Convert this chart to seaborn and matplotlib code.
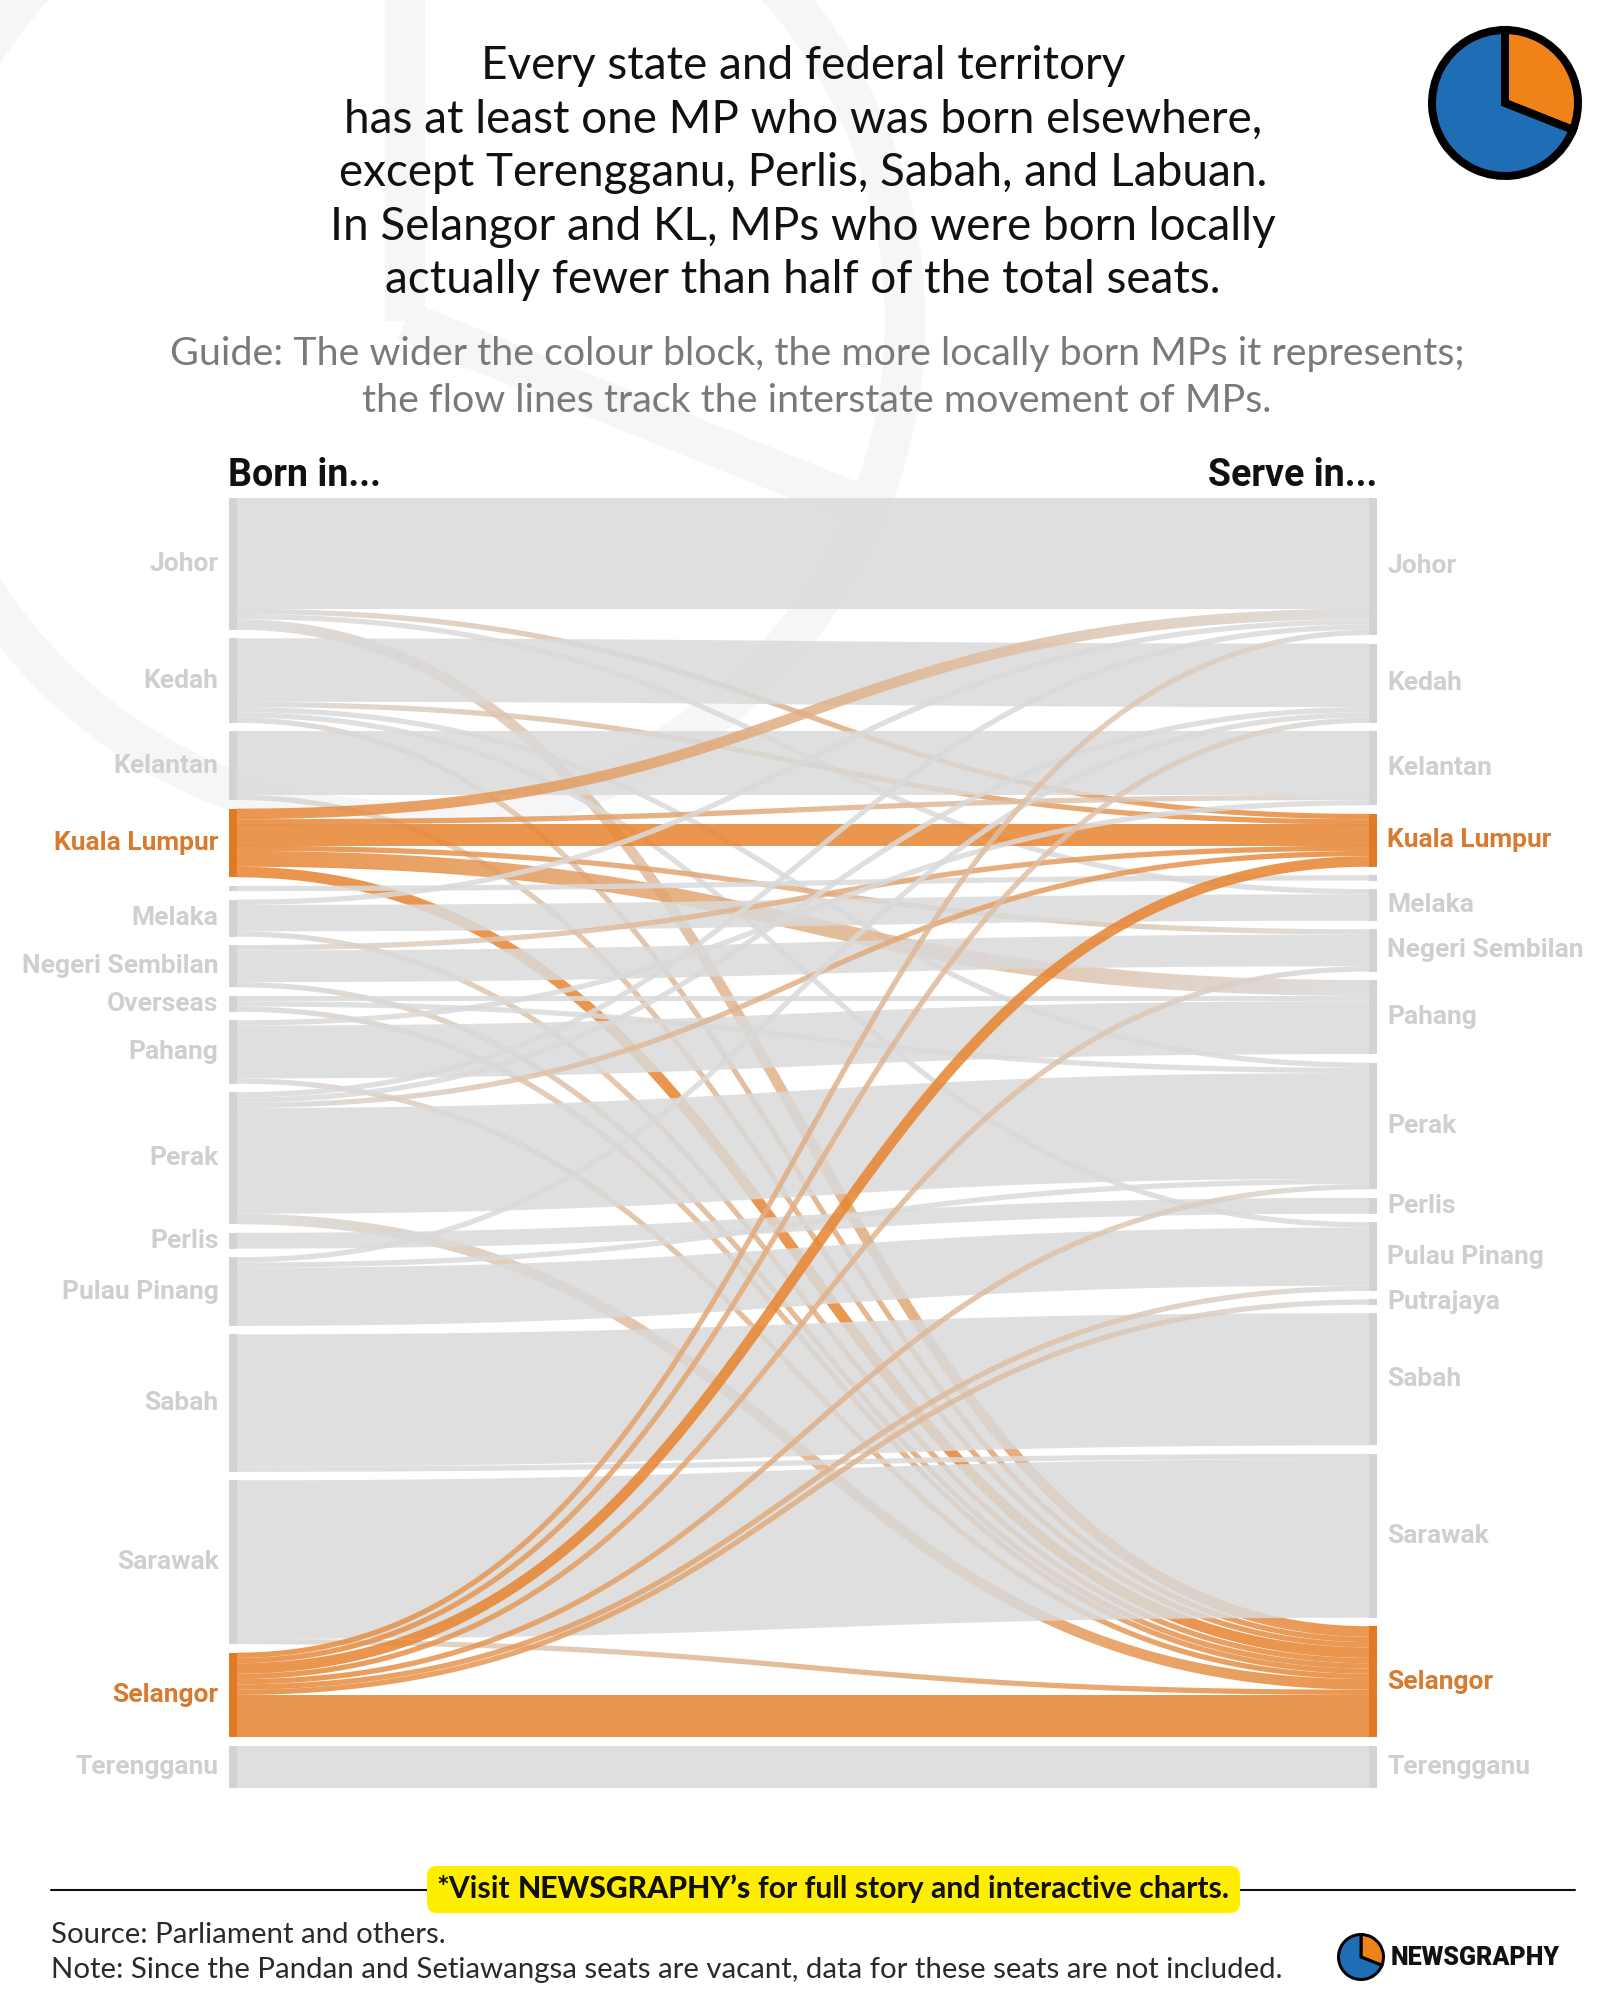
import numpy as np
import matplotlib
matplotlib.use("Agg")
import matplotlib.pyplot as plt
import seaborn as sns
from matplotlib.path import Path
from matplotlib.patches import PathPatch, Circle, FancyBboxPatch
import matplotlib.colors as mcolors

# ---------------- data ----------------
born_nodes = ["Johor", "Kedah", "Kelantan", "Kuala Lumpur", "Labuan", "Melaka",
              "Negeri Sembilan", "Overseas", "Pahang", "Perak", "Perlis",
              "Pulau Pinang", "Sabah", "Sarawak", "Selangor", "Terengganu"]
serve_nodes = ["Johor", "Kedah", "Kelantan", "Kuala Lumpur", "Labuan", "Melaka",
               "Negeri Sembilan", "Pahang", "Perak", "Perlis", "Pulau Pinang",
               "Putrajaya", "Sabah", "Sarawak", "Selangor", "Terengganu"]
hidden_labels = ["Labuan"]
highlight_states = ["Kuala Lumpur", "Selangor"]

flow_born = (["Johor"] * 4 + ["Kedah"] * 5 + ["Kelantan"] * 2 + ["Kuala Lumpur"] * 6 +
             ["Labuan"] + ["Melaka"] * 3 + ["Negeri Sembilan"] * 3 + ["Overseas"] * 3 +
             ["Pahang"] * 3 + ["Perak"] * 5 + ["Perlis"] + ["Pulau Pinang"] * 3 +
             ["Sabah"] * 2 + ["Sarawak"] * 2 + ["Selangor"] * 8 + ["Terengganu"])
flow_serve = ["Johor", "Kuala Lumpur", "Melaka", "Selangor",
              "Kedah", "Kuala Lumpur", "Perak", "Pulau Pinang", "Selangor",
              "Kelantan", "Selangor",
              "Johor", "Kelantan", "Kuala Lumpur", "Negeri Sembilan", "Pahang", "Selangor",
              "Labuan",
              "Johor", "Melaka", "Selangor",
              "Kuala Lumpur", "Negeri Sembilan", "Selangor",
              "Pahang", "Perak", "Selangor",
              "Kelantan", "Pahang", "Selangor",
              "Johor", "Kedah", "Kuala Lumpur", "Perak", "Selangor",
              "Perlis",
              "Kedah", "Perak", "Pulau Pinang",
              "Sabah", "Sarawak",
              "Sarawak", "Selangor",
              "Johor", "Kedah", "Kuala Lumpur", "Negeri Sembilan", "Perak",
              "Pulau Pinang", "Putrajaya", "Selangor",
              "Terengganu"]
flow_mps = [21, 1, 1, 2,
            12, 1, 1, 1, 1,
            12, 1,
            2, 1, 4, 1, 3, 2,
            1,
            1, 5, 1,
            1, 6, 1,
            1, 1, 1,
            1, 10, 1,
            1, 1, 1, 20, 2,
            3,
            1, 1, 11,
            25, 1,
            30, 1,
            1, 1, 2, 1, 1, 1, 1, 8,
            8]

title_lines = ["Every state and federal territory",
               "has at least one MP who was born elsewhere,",
               "except Terengganu, Perlis, Sabah, and Labuan.",
               "In Selangor and KL, MPs who were born locally",
               "actually fewer than half of the total seats."]
guide_lines = ["Guide: The wider the colour block, the more locally born MPs it represents;",
               "the flow lines track the interstate movement of MPs."]
logo_pie = [31, 69]

# ---------------- style ----------------
sns.set_theme(style="white")
plt.rcParams["font.family"] = ["Lato", "DejaVu Sans"]

GREY_LINK = "#DADADA"
ORANGE_LINK = "#E8842F"
LINK_ALPHA = 0.85
GREY_NODE = "#D3D3D3"
ORANGE_NODE = "#E07A24"
LABEL_GREY = "#CFCFCF"
LABEL_ORANGE = "#D67B30"
BLUE = "#1F6DB5"
PIE_ORANGE = "#F0821A"
LABEL_FONT = ["Roboto", "DejaVu Sans"]

W_PX, H_PX = 1600, 2003
fig = plt.figure(figsize=(W_PX / 100, H_PX / 100), dpi=100)
fig.patch.set_facecolor("white")

# background / decoration axes in pixel units
bg = fig.add_axes([0, 0, 1, 1], zorder=0)
bg.set_xlim(0, W_PX)
bg.set_ylim(H_PX, 0)
bg.set_axis_off()

# faint watermark logo
wm_c = (405, 321)
wm_r = 500
wm_col = "#F6F6F7"
bg.add_patch(Circle(wm_c, wm_r, fill=False, lw=29, edgecolor=wm_col))
bg.plot([wm_c[0], wm_c[0]], [wm_c[1], wm_c[1] - wm_r], color=wm_col, lw=29, solid_capstyle="butt")
ang = np.deg2rad(112)
bg.plot([wm_c[0], wm_c[0] + wm_r * np.sin(ang)], [wm_c[1], wm_c[1] - wm_r * np.cos(ang)],
        color=wm_col, lw=29, solid_capstyle="butt")

# title & guide
for i, line in enumerate(title_lines):
    bg.text(803, 66 + i * 53.6, line, ha="center", va="center", fontsize=33,
            color="#111111", family=["Lato", "DejaVu Sans"])
for i, line in enumerate(guide_lines):
    bg.text(817, 354 + i * 47, line, ha="center", va="center", fontsize=28.4,
            color="#7A7A7A", family=["Lato", "DejaVu Sans"])

bg.text(228, 475, "Born in...", ha="left", va="center", fontsize=27, fontweight="bold",
        color="#111111", family=LABEL_FONT)
bg.text(1377, 475, "Serve in...", ha="right", va="center", fontsize=27, fontweight="bold",
        color="#111111", family=LABEL_FONT)

# ---------------- sankey layout ----------------
SK_LEFT, SK_RIGHT, SK_TOP, SK_BOTTOM = 229, 1377, 497.7, 1788
NODE_W_PX = 8
LINK_W_PX = (SK_RIGHT - SK_LEFT) - 2 * NODE_W_PX
sk_h_px = SK_BOTTOM - SK_TOP
pad_px = 8.5
total = sum(flow_mps)
ky = (sk_h_px - (len(born_nodes) - 1) * pad_px) / total      # px per MP
H = sk_h_px / ky                                             # height in MP units
nw = NODE_W_PX / LINK_W_PX                                   # node width in x units

ax = fig.add_axes([SK_LEFT / W_PX, 1 - SK_BOTTOM / H_PX,
                   (SK_RIGHT - SK_LEFT) / W_PX, sk_h_px / H_PX], zorder=1)
ax.patch.set_alpha(0)
ax.set_axis_off()

src_size = {n: 0 for n in born_nodes}
tgt_size = {n: 0 for n in serve_nodes}
for s, t, v in zip(flow_born, flow_serve, flow_mps):
    src_size[s] += v
    tgt_size[t] += v


def column_layout(nodes, sizes):
    gap = (H - sum(sizes[n] for n in nodes)) / (len(nodes) - 1)
    pos, y = {}, 0.0
    for n in nodes:
        pos[n] = y
        y += sizes[n] + gap
    return pos


src_y0 = column_layout(born_nodes, src_size)
tgt_y0 = column_layout(serve_nodes, tgt_size)

links = list(zip(flow_born, flow_serve, flow_mps))
src_off = {}
for n in born_nodes:
    acc = src_y0[n]
    for k in sorted([i for i, l in enumerate(links) if l[0] == n],
                    key=lambda i: serve_nodes.index(links[i][1])):
        src_off[k] = acc
        acc += links[k][2]
tgt_off = {}
for n in serve_nodes:
    acc = tgt_y0[n]
    for k in sorted([i for i, l in enumerate(links) if l[1] == n],
                    key=lambda i: born_nodes.index(links[i][0])):
        tgt_off[k] = acc
        acc += links[k][2]


def ribbon_path(ys, yt, v, n=160):
    t = np.linspace(0, 1, n)
    Wp = LINK_W_PX
    Ys, Yt = ys * ky, yt * ky
    xm = Wp / 2
    bx = 3 * (1 - t) ** 2 * t * xm + 3 * (1 - t) * t ** 2 * xm + t ** 3 * Wp
    by = ((1 - t) ** 3 + 3 * (1 - t) ** 2 * t) * Ys + (3 * (1 - t) * t ** 2 + t ** 3) * Yt
    dx = 3 * (1 - t) ** 2 * xm + 3 * t ** 2 * (Wp - xm)
    dy = 6 * (1 - t) * t * (Yt - Ys)
    L = np.hypot(dx, dy)
    nx, ny = -dy / L, dx / L
    half = v * ky / 2
    ux, uy = bx + nx * half, by + ny * half
    lx, ly = bx - nx * half, by - ny * half
    xs = np.concatenate([ux, lx[::-1]]) / Wp
    yy = np.concatenate([uy, ly[::-1]]) / ky
    verts = np.column_stack([xs, yy])
    verts = np.vstack([verts, verts[:1]])
    codes = [Path.MOVETO] + [Path.LINETO] * (len(verts) - 2) + [Path.CLOSEPOLY]
    return Path(verts, codes)


def node_link_color(name):
    return ORANGE_LINK if name in highlight_states else GREY_LINK


for k, (s, t, v) in enumerate(links):
    ys = src_off[k] + v / 2
    yt = tgt_off[k] + v / 2
    path = ribbon_path(ys, yt, v)
    c0, c1 = node_link_color(s), node_link_color(t)
    if c0 == c1:
        ax.add_patch(PathPatch(path, facecolor=c0, edgecolor="none", alpha=LINK_ALPHA, zorder=2))
    else:
        patch = PathPatch(path, facecolor="none", edgecolor="none", zorder=2)
        ax.add_patch(patch)
        r0 = np.array(mcolors.to_rgba(c0))
        r1 = np.array(mcolors.to_rgba(c1))
        f = np.linspace(0, 1, 256)[:, None]
        grad = (r0 * (1 - f) + r1 * f)
        grad[:, 3] = LINK_ALPHA
        im = ax.imshow(grad[None, :, :], extent=(0, 1, H, 0), aspect="auto",
                       interpolation="bilinear", zorder=2)
        im.set_clip_path(patch)

# nodes
for n in born_nodes:
    col = ORANGE_NODE if n in highlight_states else GREY_NODE
    ax.barh(src_y0[n], nw, height=src_size[n], left=-nw, align="edge", color=col,
            edgecolor="none", zorder=3)
    if n not in hidden_labels:
        ax.annotate(n, xy=(-nw, src_y0[n] + src_size[n] / 2), xytext=(-7.5, 0),
                    textcoords="offset points", ha="right", va="center", fontsize=19,
                    fontweight="bold", family=LABEL_FONT,
                    color=LABEL_ORANGE if n in highlight_states else LABEL_GREY)
for n in serve_nodes:
    col = ORANGE_NODE if n in highlight_states else GREY_NODE
    ax.barh(tgt_y0[n], nw, height=tgt_size[n], left=1, align="edge", color=col,
            edgecolor="none", zorder=3)
    if n not in hidden_labels:
        ax.annotate(n, xy=(1 + nw, tgt_y0[n] + tgt_size[n] / 2), xytext=(7.5, 0),
                    textcoords="offset points", ha="left", va="center", fontsize=19,
                    fontweight="bold", family=LABEL_FONT,
                    color=LABEL_ORANGE if n in highlight_states else LABEL_GREY)

ax.set_xlim(-nw, 1 + nw)
ax.set_ylim(H, 0)

# ---------------- pie icons ----------------
def pie_icon(cx, cy, r, lw):
    pax = fig.add_axes([(cx - r * 1.08) / W_PX, 1 - (cy + r * 1.08) / H_PX,
                        2 * r * 1.08 / W_PX, 2 * r * 1.08 / H_PX], zorder=5)
    pax.pie(logo_pie, colors=[PIE_ORANGE, BLUE], startangle=90, counterclock=False,
            radius=1.0 - lw / 2 / r, wedgeprops=dict(edgecolor="black", linewidth=lw * 0.72))
    pax.set_xlim(-1.08, 1.08)
    pax.set_ylim(-1.08, 1.08)
    pax.set_aspect("equal")
    pax.set_axis_off()

pie_icon(1505, 103, 77, 8)
pie_icon(1361, 1957, 24, 3)

# ---------------- footer ----------------
bg.plot([51, 1575], [1890, 1890], color="#111111", lw=1.5, zorder=1)
bg.add_patch(FancyBboxPatch((427, 1866), 813, 47, boxstyle="round,pad=0,rounding_size=10",
                            facecolor="#FFEE00", edgecolor="none", zorder=2))

fig.canvas.draw()
rend = fig.canvas.get_renderer()


def measure(s, **kw):
    t = bg.text(0, 0, s, **kw)
    w = t.get_window_extent(renderer=rend).width
    t.remove()
    return w

parts = [("*Visit", "bold"), ("NEWSGRAPHY\u2019s", "black"),
         ("for full story and interactive charts.", "bold")]
fkw = dict(fontsize=21.7, family=["Lato", "DejaVu Sans"])
space = measure("a a", fontweight="bold", **fkw) - measure("aa", fontweight="bold", **fkw)
widths = [measure(s, fontweight=w, **fkw) for s, w in parts]
x = 833 - (sum(widths) + space * (len(parts) - 1)) / 2
for (s, w), wd in zip(parts, widths):
    bg.text(x, 1889, s, ha="left", va="center", fontweight=w, color="#111111", zorder=3, **fkw)
    x += wd + space

bg.text(51, 1935, "Source: Parliament and others.", ha="left", va="center", fontsize=21.2,
        color="#2A2A2A", family=["Lato", "DejaVu Sans"])
bg.text(51, 1970, "Note: Since the Pandan and Setiawangsa seats are vacant, data for these seats are not included.",
        ha="left", va="center", fontsize=21.2, color="#2A2A2A",
        family=["Lato", "DejaVu Sans"])
bg.text(1391, 1958, "NEWSGRAPHY", ha="left", va="center", fontsize=18, fontweight="heavy",
        color="#111111", family=["Roboto", "DejaVu Sans"])

fig.savefig("out.png", dpi=100, facecolor="white")
